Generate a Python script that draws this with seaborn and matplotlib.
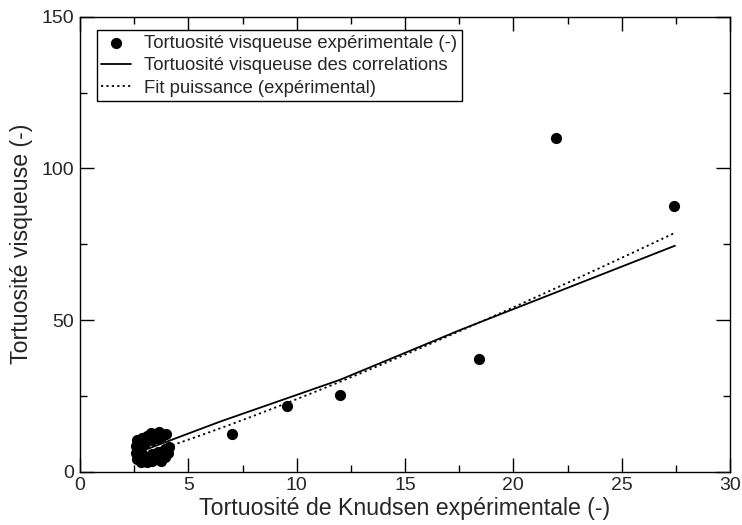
import numpy as np
import pandas as pd
import matplotlib
matplotlib.use("Agg")
import matplotlib.pyplot as plt
import seaborn as sns
from matplotlib.ticker import MultipleLocator

# Experimental points: Knudsen tortuosity vs viscous tortuosity
knudsen_exp = [2.58, 2.63, 2.86, 3.09, 3.28, 3.46, 3.65, 3.78, 3.97,
               2.58, 2.63, 2.75, 2.80,
               3.00, 3.30, 3.60,
               2.81, 3.09, 3.32, 3.51, 3.74, 3.92, 4.06, 4.01, 3.23, 3.69,
               3.00, 3.30, 3.60, 3.90, 4.12,
               7.0, 9.57, 12.0, 18.43, 21.95, 27.43]
visqueuse_exp = [8.5, 10.5, 11.1, 11.8, 12.8, 12.1, 13.1, 11.8, 12.4,
                 6.2, 4.2, 8.0, 6.5,
                 9.5, 10.4, 11.2,
                 3.2, 3.2, 3.5, 4.5, 3.5, 4.8, 6.2, 7.2, 5.2, 6.5,
                 4.9, 5.8, 6.6, 7.5, 8.2,
                 12.4, 21.7, 25.3, 37.2, 109.9, 87.7]

# Correlation curve
knudsen_corr = [3.0, 6.46, 12.0, 17.54, 27.46]
visqueuse_corr = [7.2, 16.5, 30.3, 46.7, 74.5]

# Power-law fit of the experimental data
fit_a = 1.58
fit_b = 1.18
knudsen_fit = np.linspace(2.6, 27.4, 60)
visqueuse_fit = fit_a * knudsen_fit ** fit_b

df_exp = pd.DataFrame({"x": knudsen_exp, "y": visqueuse_exp})
df_corr = pd.DataFrame({"x": knudsen_corr, "y": visqueuse_corr})
df_fit = pd.DataFrame({"x": knudsen_fit, "y": visqueuse_fit})

sns.set_theme(style="ticks")
plt.rcParams["font.family"] = ["Liberation Sans", "DejaVu Sans"]

fig = plt.figure(figsize=(7.42, 5.25), dpi=100)
ax = fig.add_axes([80 / 742, 53.3 / 525, 650 / 742, 455 / 525])

sns.scatterplot(data=df_exp, x="x", y="y", ax=ax, color="black", s=65,
                edgecolor="black", linewidth=0, zorder=3,
                label="Tortuosité visqueuse expérimentale (-)")
sns.lineplot(data=df_corr, x="x", y="y", ax=ax, color="black", lw=1.3,
             sort=False, estimator=None, zorder=4,
             label="Tortuosité visqueuse des correlations")
sns.lineplot(data=df_fit, x="x", y="y", ax=ax, color="black", lw=1.3,
             linestyle=(0, (1.2, 1.8)), sort=False, estimator=None, zorder=4,
             label="Fit puissance (expérimental)")

ax.set_xlim(0, 30)
ax.set_ylim(0, 150)
ax.xaxis.set_major_locator(MultipleLocator(5))
ax.xaxis.set_minor_locator(MultipleLocator(2.5))
ax.yaxis.set_major_locator(MultipleLocator(50))
ax.yaxis.set_minor_locator(MultipleLocator(25))
ax.tick_params(which="both", direction="in", top=True, right=True,
               color="black", width=1.0)
ax.tick_params(which="major", length=10, labelsize=14, pad=4)
ax.tick_params(which="minor", length=5)
for sp in ax.spines.values():
    sp.set_color("black")
    sp.set_linewidth(1.0)

ax.set_xlabel("Tortuosité de Knudsen expérimentale (-)", fontsize=16.7, labelpad=2)
ax.set_ylabel("Tortuosité visqueuse (-)", fontsize=16.7, labelpad=6)

leg = ax.legend(loc="upper left", bbox_to_anchor=(0.0257, 0.971),
                borderaxespad=0, fontsize=13.3, frameon=True, fancybox=False,
                handlelength=1.6, handletextpad=0.7, labelspacing=0.3,
                borderpad=0.25)
leg.get_frame().set_edgecolor("black")
leg.get_frame().set_linewidth(1.0)
leg.get_frame().set_alpha(1)

fig.savefig("out.png", dpi=100)
